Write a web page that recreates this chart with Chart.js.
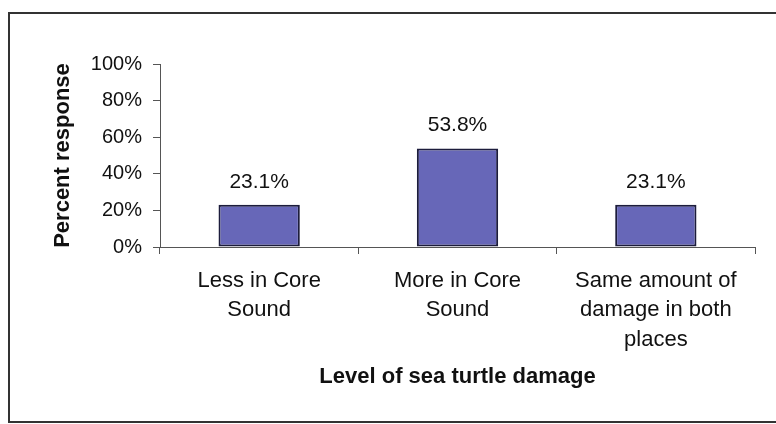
<!DOCTYPE html>
<html>
<head>
<meta charset="utf-8">
<script src="https://cdn.jsdelivr.net/npm/chart.js@4/dist/chart.umd.min.js"></script>
<style>
  html, body { margin: 0; padding: 0; background: #fff; }
  #wrap { width: 776px; height: 424px; position: relative; }
</style>
</head>
<body>
<div id="wrap"><canvas id="barChart" width="776" height="424"></canvas></div>
<script>
const categories = [
    ['Less in Core', 'Sound'],
    ['More in Core', 'Sound'],
    ['Same amount of', 'damage in both', 'places']
];
const percentValues = [23.1, 53.8, 23.1];
const yTicks = [0, 20, 40, 60, 80, 100];

Chart.defaults.font.family = 'Arial, "Liberation Sans", sans-serif';
Chart.defaults.color = '#111';

// frame round the whole chart, like the original picture
const framePlugin = {
    id: 'frame',
    beforeDraw(chart) {
        const c = chart.ctx;
        c.save();
        c.fillStyle = '#fff';
        c.fillRect(0, 0, chart.width, chart.height);
        c.strokeStyle = '#333';
        c.lineWidth = 2;
        c.strokeRect(9, 13, 790, 409);
        c.restore();
    }
};

// value labels above the bars
const valueLabels = {
    id: 'valueLabels',
    afterDatasetsDraw(chart) {
        const c = chart.ctx;
        const meta = chart.getDatasetMeta(0);
        c.save();
        c.font = '21px Arial, "Liberation Sans", sans-serif';
        c.fillStyle = '#111';
        c.textAlign = 'center';
        c.textBaseline = 'middle';
        meta.data.forEach((bar, i) => {
            c.fillText(percentValues[i].toFixed(1) + '%', bar.x, bar.y - 23);
        });
        c.restore();
    }
};

const ctx = document.getElementById('barChart').getContext('2d');
const graph = new Chart(ctx, {
    type: 'bar',
    data: {
        labels: categories,
        datasets: [{
            data: percentValues,
            backgroundColor: '#6767b8',
            borderColor: '#1c1c3c',
            borderWidth: 2,
            borderSkipped: false,
            categoryPercentage: 1,
            barPercentage: 0.41
        }]
    },
    options: {
        responsive: false,
        animation: false,
        layout: {
            padding: { left: 0, top: 64, right: 21, bottom: 0 }
        },
        plugins: {
            legend: { display: false },
            tooltip: { enabled: false }
        },
        scales: {
            x: {
                grid: {
                    drawOnChartArea: false,
                    offset: true,
                    tickLength: 7,
                    color: '#555'
                },
                border: { color: '#555', width: 1 },
                ticks: {
                    font: { size: 22, lineHeight: '29.5px' },
                    padding: 12,
                    maxRotation: 0,
                    autoSkip: false
                },
                title: {
                    display: true,
                    text: 'Level of sea turtle damage',
                    font: { size: 22, weight: 'bold' },
                    padding: { top: 0, bottom: 34 }
                },
                afterFit(scale) { scale.height = 177; }
            },
            y: {
                min: 0,
                max: 100,
                afterBuildTicks(scale) {
                    scale.ticks = yTicks.map(v => ({ value: v }));
                },
                grid: {
                    drawOnChartArea: false,
                    tickLength: 7,
                    color: '#555'
                },
                border: { color: '#555', width: 1 },
                ticks: {
                    font: { size: 20 },
                    padding: 11,
                    callback: v => v + '%'
                },
                title: {
                    display: true,
                    text: 'Percent response',
                    font: { size: 22, weight: 'bold' },
                    padding: { top: 50, bottom: 0 }
                },
                afterFit(scale) { scale.width = 160; }
            }
        }
    },
    plugins: [framePlugin, valueLabels]
});
</script>
</body>
</html>
